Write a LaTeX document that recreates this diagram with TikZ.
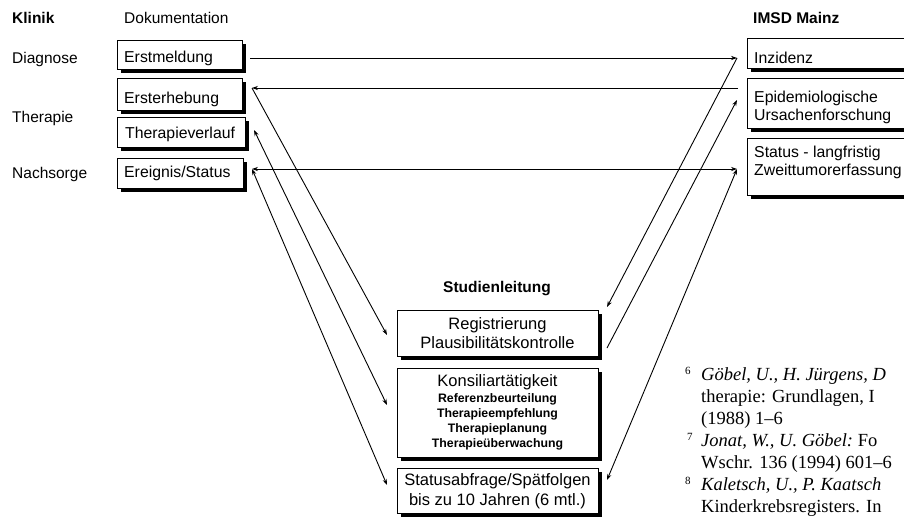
\documentclass[tikz,border=0pt]{standalone}
\usepackage{fontspec}
\setmainfont{Liberation Sans}
\newfontfamily\reffont{Liberation Serif}
\usetikzlibrary{arrows.meta,shadows}
\tikzset{
  lab/.style={font=\fontsize{15.5}{18}\selectfont, inner sep=0pt, anchor=base west},
  hdr/.style={font=\fontsize{15.5}{18}\selectfont\bfseries, inner sep=0pt, anchor=base west},
  frame/.style 2 args={draw, line width=1.3pt, fill=white,
    drop shadow={shadow xshift=3.5pt, shadow yshift=-3.5pt, fill=black, opacity=1},
    anchor=north west, inner sep=0pt, minimum width=#1, minimum height=#2},
  bt/.style={font=\fontsize{15.8}{18}\selectfont, inner sep=0pt, anchor=base west},
  ct/.style={font=\fontsize{16.5}{20}\selectfont, inner sep=0pt, anchor=base},
  st/.style={font=\fontsize{12.3}{15}\selectfont\bfseries, inner sep=0pt, anchor=base},
  conn/.style={line width=0.9pt, -{Stealth[length=6pt,width=4.2pt]}},
  dconn/.style={line width=0.9pt, {Stealth[length=6pt,width=4.2pt]}-{Stealth[length=6pt,width=4.2pt]}},
  ref/.style={font=\reffont\fontsize{18.5}{22}\selectfont, inner sep=0pt, anchor=base west},
  refnum/.style={font=\reffont\fontsize{11}{12}\selectfont, inner sep=0pt, anchor=base west},
}
\begin{document}
\begin{tikzpicture}[x=1pt,y=-1pt]
\useasboundingbox[fill=white] (0,0) rectangle (904,520);

% headings and row labels
\node[hdr] (klinik) at (12,23) {Klinik};
\node[lab] (doku) at (124,23) {Dokumentation};
\node[hdr] (imsd) at (753,23) {IMSD Mainz};
\node[hdr, anchor=base] (studl) at (497,292) {Studienleitung};
\node[lab] (diag) at (12,63) {Diagnose};
\node[lab] (ther) at (12,122) {Therapie};
\node[lab] (nachs) at (12,178) {Nachsorge};

% Klinik boxes
\node[frame={125pt}{29pt}] (erst) at (117,40) {};
\node[bt] (erstT) at (124,62) {Erstmeldung};
\node[frame={125pt}{32pt}] (erher) at (117,78) {};
\node[bt] (erherT) at (124,103) {Ersterhebung};
\node[frame={128pt}{30pt}] (tverl) at (117,117) {};
\node[bt] (tverlT) at (125,138) {Therapieverlauf};
\node[frame={126pt}{30pt}] (ereig) at (117,158) {};
\node[bt] (ereigT) at (124,177.5) {Ereignis/Status};

% IMSD boxes
\node[frame={170pt}{30pt}] (inz) at (747,38) {};
\node[bt] (inzT) at (754,63) {Inzidenz};
\node[frame={170pt}{50pt}] (epi) at (747,78) {};
\node[bt] (epiT1) at (754,102) {Epidemiologische};
\node[bt] (epiT2) at (754,120) {Ursachenforschung};
\node[frame={170pt}{57pt}] (stat) at (747,138) {};
\node[bt] (statT1) at (754,157) {Status - langfristig};
\node[bt] (statT2) at (754,175) {Zweittumorerfassung};

% Studienleitung boxes
\node[frame={201pt}{46pt}] (reg) at (397,310) {};
\node[ct] (regT1) at (497.5,329) {Registrierung};
\node[ct] (regT2) at (497.5,348) {Plausibilitätskontrolle};
\node[frame={201pt}{89pt}] (kons) at (397,368) {};
\node[ct] (konsT) at (497.5,386) {Konsiliartätigkeit};
\node[st] (konsS1) at (497.5,402.5) {Referenzbeurteilung};
\node[st] (konsS2) at (497.5,417.5) {Therapieempfehlung};
\node[st] (konsS3) at (497.5,432.5) {Therapieplanung};
\node[st] (konsS4) at (497.5,447.5) {Therapieüberwachung};
\node[frame={201pt}{45pt}] (sab) at (397,468) {};
\node[ct] (sabT1) at (497.5,485) {Statusabfrage/Spätfolgen};
\node[ct] (sabT2) at (497.5,505) {bis zu 10 Jahren (6 mtl.)};

% connector end points
\coordinate (erstR) at (250,58);
\coordinate (erherR) at (252,88);
\coordinate (tverlR) at (254,130);
\coordinate (ereigR) at (252,169);
\coordinate (inzL) at (737,58);
\coordinate (epiL) at (738,88);
\coordinate (epiL2) at (737,100);
\coordinate (statL) at (737,169);
\coordinate (regL) at (387,335);
\coordinate (regR1) at (607,307);
\coordinate (regR2) at (607,348);
\coordinate (konsL) at (387,405);
\coordinate (sabL) at (387,485);
\coordinate (sabR) at (607,480);

% connectors
\draw[conn] (erstR) -- (inzL);
\draw[conn] (epiL) -- (erherR);
\draw[dconn] (ereigR) -- (statL);
\draw[conn] (erherR) -- (regL);
\draw[dconn] (tverlR) -- (konsL);
\draw[dconn] (ereigR) -- (sabL);
\draw[conn] (inzL) -- (regR1);
\draw[conn] (regR2) -- (epiL2);
\draw[dconn] (statL) -- (sabR);

% references (page text)
\node[refnum] (r6n) at (685,374) {6};
\node[ref] (r6a) at (701,380) {\itshape Göbel, U., H. Jürgens, D};
\node[ref] (r6b) at (701,402) {therapie: Grundlagen, I};
\node[ref] (r6c) at (701,424) {(1988) 1–6};
\node[refnum] (r7n) at (687,440) {7};
\node[ref] (r7a) at (701,446) {\itshape Jonat, W., U. Göbel:\upshape\ Fo};
\node[ref] (r7b) at (701,468) {Wschr. 136 (1994) 601–6};
\node[refnum] (r8n) at (685,484) {8};
\node[ref] (r8a) at (701,490) {\itshape Kaletsch, U., P. Kaatsch};
\node[ref] (r8b) at (701,512) {Kinderkrebsregisters. In};
\end{tikzpicture}
\end{document}
